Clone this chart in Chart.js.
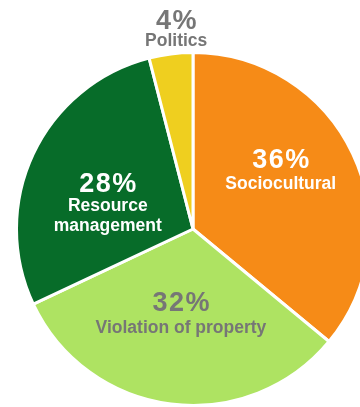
<!DOCTYPE html>
<html>
<head>
<meta charset="utf-8">
<script src="https://cdn.jsdelivr.net/npm/chart.js@4"></script>
<style>
  html, body { margin: 0; padding: 0; background: #ffffff; overflow: hidden; width: 360px; height: 407px; }
  #wrap { position: absolute; left: 0; top: 0; }
</style>
</head>
<body>
<div id="wrap"><canvas id="c" width="386" height="458"></canvas></div>
<script>
// ---- data ----
const categories = ['Sociocultural', 'Violation of property', 'Resource management', 'Politics'];
const labelLines = [['Sociocultural'], ['Violation of property'], ['Resource', 'management'], ['Politics']];
const shares = [36, 32, 28, 4];
const sliceColors = ['#F68B17', '#AEE362', '#076C29', '#EFCF1F'];
const textColors = ['#ffffff', '#767676', '#ffffff', '#767676'];

// label placement relative to each slice: angle offset (deg) from slice middle, radius fraction, name-line gap
const labelAngleOffset = [-9.4, 1.2, -1.6, 2.4];
const labelRadiusFrac = [0.604, 0.467, 0.527, 1.138];
const nameGap = [21, 22, 19.5, 16.7];

const FONT = '"Liberation Sans", Arial, Helvetica, sans-serif';

const labelPlugin = {
  id: 'sliceLabels',
  afterDatasetsDraw(chart) {
    const ctx = chart.ctx;
    const meta = chart.getDatasetMeta(0);
    meta.data.forEach((arc, i) => {
      const p = arc.getProps(['x', 'y', 'startAngle', 'endAngle', 'outerRadius'], true);
      const mid = (p.startAngle + p.endAngle) / 2 + labelAngleOffset[i] * Math.PI / 180;
      const r = p.outerRadius * labelRadiusFrac[i];
      const x = p.x + Math.cos(mid) * r;
      const y = p.y + Math.sin(mid) * r;
      ctx.save();
      ctx.fillStyle = textColors[i];
      ctx.textAlign = 'left';
      ctx.textBaseline = 'alphabetic';
      ctx.font = 'bold 27px ' + FONT;
      ctx.letterSpacing = '1.5px';
      const pct = shares[i] + '%';
      const w = ctx.measureText(pct).width - 1.5;
      ctx.fillText(pct, x - w / 2, y);
      ctx.letterSpacing = '0px';
      ctx.textAlign = 'center';
      ctx.font = 'bold 17.5px ' + FONT;
      labelLines[i].forEach((line, k) => {
        ctx.fillText(line, x, y + nameGap[i] + k * 19.5);
      });
      ctx.restore();
    });
  }
};

new Chart(document.getElementById('c'), {
  type: 'pie',
  data: {
    labels: categories,
    datasets: [{
      data: shares,
      backgroundColor: sliceColors,
      borderColor: '#ffffff',
      borderWidth: 3
    }]
  },
  options: {
    responsive: false,
    animation: false,
    layout: { padding: { left: 15, right: 15, top: 51, bottom: 51 } },
    plugins: {
      legend: { display: false },
      tooltip: { enabled: false }
    }
  },
  plugins: [labelPlugin]
});
</script>
</body>
</html>
